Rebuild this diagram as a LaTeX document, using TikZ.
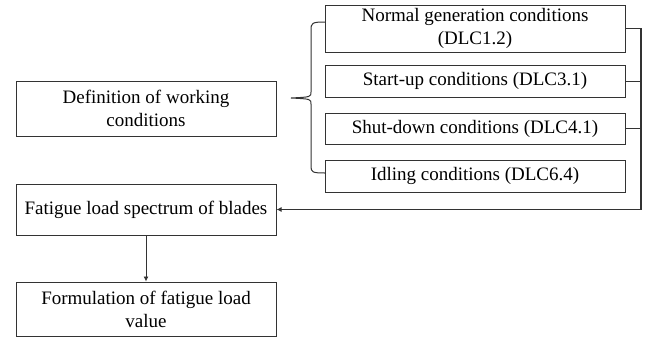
\documentclass[tikz,border=0pt]{standalone}
\usepackage{fontspec}
\setmainfont{Liberation Serif}
\usetikzlibrary{arrows.meta}
\begin{document}
\begin{tikzpicture}[x=0.6pt,y=-0.6pt]
\tikzstyle{every node}=[draw=black!80,line width=0.6pt,align=center,inner sep=1pt,font=\fontsize{11.4}{13.8}\selectfont]
\tikzstyle{leftbox}=[rectangle,minimum width=156pt]
\tikzstyle{dlcbox}=[rectangle,minimum width=180pt]
\useasboundingbox (0,0) rectangle (654,337);
\node[leftbox,minimum height=33pt](def) at (146,108.5) {Definition of working\\conditions};
\node[leftbox,minimum height=30.6pt](fat) at (146,209.5) {Fatigue load spectrum of blades};
\node[leftbox,minimum height=32.4pt](form) at (146,309) {Formulation of fatigue load\\value};
\node[dlcbox,minimum height=28.2pt](c1) at (475,28.5) {Normal generation conditions\\(DLC1.2)};
\node[dlcbox,minimum height=19.2pt](c2) at (475,81) {Start-up conditions (DLC3.1)};
\node[dlcbox,minimum height=18.6pt](c3) at (475,128.5) {Shut-down conditions (DLC4.1)};
\node[dlcbox,minimum height=19.2pt](c4) at (475,176) {Idling conditions (DLC6.4)};
% brace
\draw[black!80,line width=0.6pt] (325,22) .. controls (312,22) and (311,23) .. (311,30) -- (311,92) .. controls (311,97) .. (291,98) .. controls (311,99) .. (311,104) -- (311,166) .. controls (311,172) and (312,173) .. (325,173);
% collecting line
\draw[black!80,line width=0.6pt] (c2.east) -- (641,81);
\draw[black!80,line width=0.6pt] (c3.east) -- (641,128.5);
\draw[black!80,line width=0.9pt,-{Latex[length=3pt,width=3pt]}] (c1.east) -- (641,28.5) |- (fat.east);
\draw[black!80,line width=0.5pt,-{Latex[length=3pt,width=3pt]}] (fat.south) -- (form.north);
\end{tikzpicture}
\end{document}
